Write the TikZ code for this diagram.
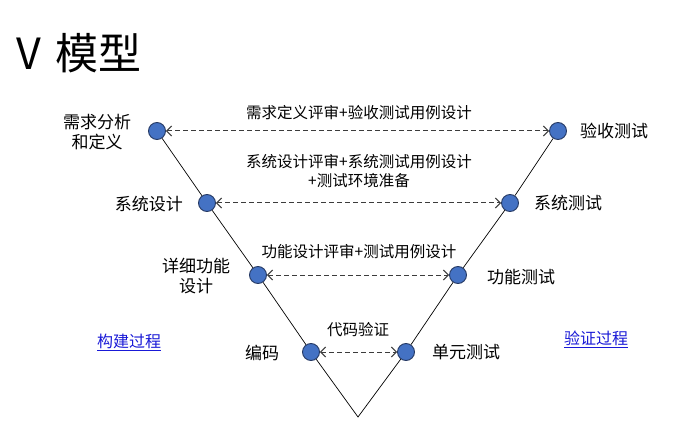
\documentclass[tikz,border=0pt]{standalone}
\usepackage{fontspec}
\setmainfont{Noto Sans CJK SC}
\usetikzlibrary{arrows.meta}
\definecolor{stagefill}{RGB}{68,114,196}
\definecolor{stageedge}{RGB}{38,58,100}
\definecolor{linkblue}{RGB}{25,25,215}
\definecolor{dashgray}{RGB}{60,60,60}
\tikzset{
  stage/.style={circle, fill=stagefill, draw=stageedge, line width=0.9pt, minimum size=17pt, inner sep=0pt},
  vline/.style={black, line width=0.7pt},
  link/.style={dashgray, line width=1pt, dash pattern=on 5pt off 3pt, {Straight Barb[length=5pt,width=10pt]}-{Straight Barb[length=5pt,width=10pt]}},
  lbl/.style={font=\fontsize{17pt}{20pt}\selectfont, text=black, inner sep=0pt, align=center},
  note/.style={font=\fontsize{15.5pt}{19pt}\selectfont, text=black, inner sep=0pt, align=center},
  phase/.style={font=\fontsize{16pt}{18pt}\selectfont, text=linkblue, inner sep=0pt}
}
\begin{document}
\begin{tikzpicture}[x=1pt, y=-1pt]
\useasboundingbox[fill=white] (0,0) rectangle (690,430);

% title
\node[anchor=west, inner sep=0pt, font=\fontsize{43pt}{48pt}\selectfont] (title) at (16,53) {V\hspace{15pt}模型};

% stages of the V
\node[stage] (req)  at (157,131) {};
\node[stage] (sysd) at (207,203) {};
\node[stage] (det)  at (258,275) {};
\node[stage] (cod)  at (311,352) {};
\coordinate (bot) at (358,417);
\node[stage] (unit) at (406,352) {};
\node[stage] (fun)  at (458,275) {};
\node[stage] (syst) at (510,203) {};
\node[stage] (acc)  at (558,131) {};

% the V itself
\draw[vline] (req) -- (sysd) -- (det) -- (cod) -- (bot) -- (unit) -- (fun) -- (syst) -- (acc);

% verification links
\draw[link] (req) -- (acc);
\draw[link] (sysd) -- (syst);
\draw[link] (det) -- (fun);
\draw[link] (cod) -- (unit);

% link notes
\node[note] (n1) at (359,113) {需求定义评审+验收测试用例设计};
\node[note] (n2) at (359,171) {系统设计评审+系统测试用例设计\\+测试环境准备};
\node[note] (n3) at (359,252) {功能设计评审+测试用例设计};
\node[note] (n4) at (358,330) {代码验证};

% stage labels
\node[lbl] (lreq)  at (97,132) {需求分析\\和定义};
\node[lbl, anchor=east] (lsysd) at (183,204) {系统设计};
\node[lbl] (ldet)  at (196,276) {详细功能\\设计};
\node[lbl] (lcod)  at (262,353) {编码};
\node[lbl, anchor=west] (lunit) at (432,352) {单元测试};
\node[lbl, anchor=west] (lfun)  at (487,277) {功能测试};
\node[lbl, anchor=west] (lsyst) at (534,203) {系统测试};
\node[lbl, anchor=west] (lacc)  at (580,131) {验收测试};

% phase links
\node[phase] (build) at (129,342) {\underline{构建过程}};
\node[phase] (verify) at (596,339) {\underline{验证过程}};
\end{tikzpicture}
\end{document}
